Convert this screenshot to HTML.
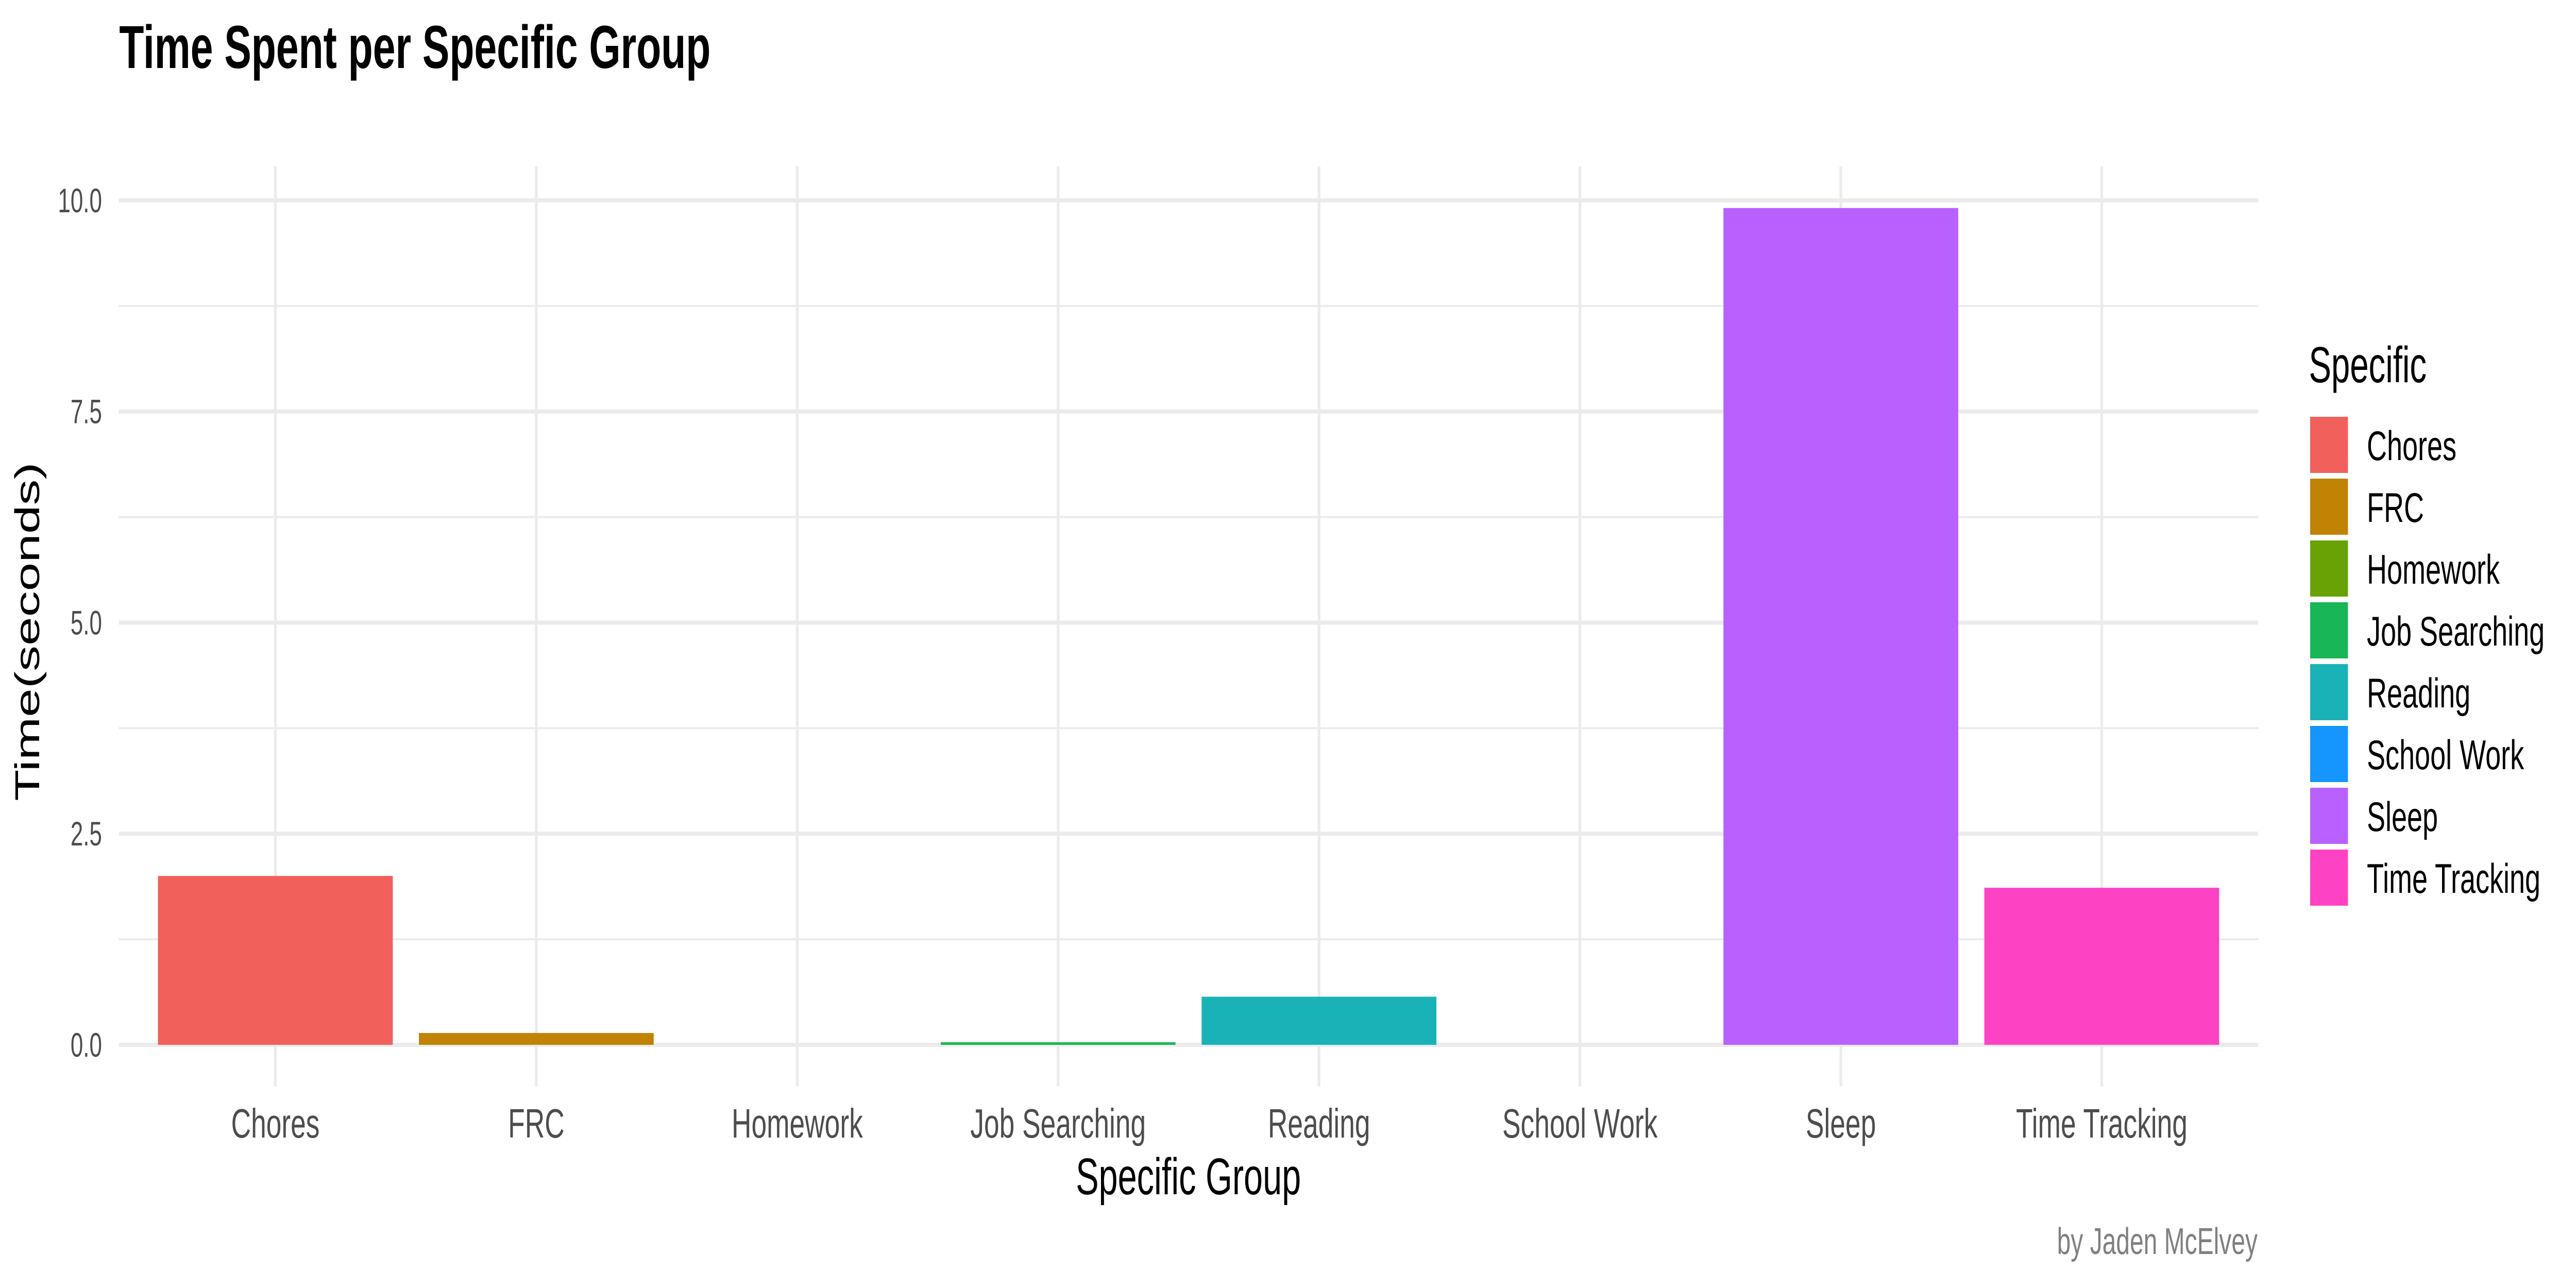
<!DOCTYPE html>
<html><head><meta charset="utf-8"><style>
html,body{margin:0;padding:0;background:#fff;overflow:hidden;width:100vw;height:100vh;}
svg{display:block;font-family:"Liberation Sans",sans-serif;width:100vw;height:100vh;}
</style></head><body>
<svg id="chart" viewBox="0 0 7500 2500" preserveAspectRatio="none">
<text x="347" y="132" font-size="118" font-weight="bold" fill="#000">Time Spent per Specific Group</text>
<g id="grid"></g>
<g id="bars"></g>
<g id="xaxis"></g>
<g id="yaxis"></g>
<text x="3460" y="2318" font-size="100" text-anchor="middle" fill="#000">Specific Group</text>
<text transform="translate(114,1226) rotate(-90)" font-size="100" text-anchor="middle" fill="#000">Time(seconds)</text>
<text x="6573" y="2434" font-size="72" text-anchor="end" fill="#808080">by Jaden McElvey</text>
<g id="legend">
<text x="6722" y="742" font-size="98" fill="#000">Specific</text>
</g>
</svg>
<script>
const categories = ["Chores","FRC","Homework","Job Searching","Reading","School Work","Sleep","Time Tracking"];
const values = [2.0, 0.14, 0.0, 0.03, 0.57, 0.0, 9.91, 1.86];
const barColors = ["#F2605C","#C08304","#68A204","#18B656","#19B3B7","#1596FE","#B961FE","#FD43C4"];
const yTicks = [0, 2.5, 5, 7.5, 10];
const yTickLabels = ["0.0","2.5","5.0","7.5","10.0"];

const NS = "http://www.w3.org/2000/svg";
const plotL = 346, plotR = 6575, plotT = 323, plotB = 2109;
const y0 = 2028, yPerUnit = 163.9;
const step = (plotR - plotL) / (categories.length + 0.2);
function xScale(i){ return plotL + (i + 0.6) * step; }
function yScale(v){ return y0 - v * yPerUnit; }
function mk(tag, attrs, parent){
  const e = document.createElementNS(NS, tag);
  for (const k in attrs) e.setAttribute(k, attrs[k]);
  parent.appendChild(e);
  return e;
}
const grid = document.getElementById('grid');
for (let i = 0; i < yTicks.length - 1; i++) {
  const v = (yTicks[i] + yTicks[i+1]) / 2;
  const l = mk('line', {x1: plotL, x2: plotR, y1: yScale(v), y2: yScale(v), stroke: '#ebebeb', 'stroke-width': 4}, grid);
  
  
}
yTicks.forEach((v) => {
  const l = mk('line', {x1: plotL, x2: plotR, y1: yScale(v), y2: yScale(v), stroke: '#ebebeb', 'stroke-width': 8}, grid);
  
  
});
categories.forEach((c, i) => {
  const l = mk('line', {x1: xScale(i), x2: xScale(i), y1: plotT, y2: plotB, stroke: '#ebebeb', 'stroke-width': 8}, grid);
  
  
});
const bars = document.getElementById('bars');
const bw = step * 0.9;
categories.forEach((c, i) => {
  const v = values[i];
  const r = mk('rect', {x: xScale(i) - bw/2, y: yScale(v), width: bw, height: Math.max(0, y0 - yScale(v)), fill: barColors[i]}, bars);
  
  
});
const xaxis = document.getElementById('xaxis');
categories.forEach((c, i) => {
  const t = mk('text', {x: xScale(i), y: 2208, 'font-size': 80, 'text-anchor': 'middle', fill: '#4d4d4d'}, xaxis);
  t.textContent = c;
  
  
});
const yaxis = document.getElementById('yaxis');
yTicks.forEach((v, i) => {
  const t = mk('text', {x: 297, y: yScale(v) + 23, 'font-size': 66, 'text-anchor': 'end', fill: '#4d4d4d'}, yaxis);
  t.textContent = yTickLabels[i];
  
  
});
const legend = document.getElementById('legend');
categories.forEach((c, i) => {
  const top = 809 + i * 120;
  const r = mk('rect', {x: 6726, y: top, width: 110, height: 109, fill: barColors[i]}, legend);
  
  
  const t = mk('text', {x: 6891, y: top + 84, 'font-size': 81, fill: '#000'}, legend);
  t.textContent = c;
  
  
});
</script>
</body></html>
